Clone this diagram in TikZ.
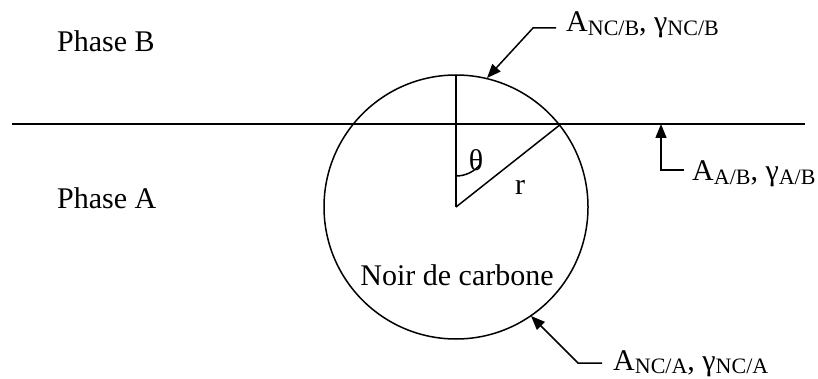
\documentclass[tikz,border=0pt]{standalone}
\usepackage{fontspec}
\setmainfont{Liberation Serif}
\usetikzlibrary{arrows.meta,calc}
\newcommand{\sbs}[1]{\raisebox{-3.5pt}{\fontsize{22}{22}\selectfont #1}}
\begin{document}
\begin{tikzpicture}[x=1pt,y=-1pt,
  line/.style={line width=1.5pt},
  txt/.style={inner sep=0pt,font=\fontsize{30}{30}\selectfont},
  lbl/.style={txt,anchor=base west},
  ptr/.style={line width=1.5pt,-{Triangle[length=14pt,width=11pt]}}]
\useasboundingbox (0,0) rectangle (818,379);
% interface
\coordinate (L) at (12,124);
\coordinate (R) at (805,124);
\draw[line] (L) -- (R);
% particle
\coordinate (O) at (456,207);
\draw[line] (O) circle[radius=132];
\coordinate (T) at (456,75);
\coordinate (P) at (561,124);
\draw[line] (O) -- (T);
\draw[line] (O) -- (P);
\coordinate (A0) at (456,176);
\draw[line] (A0) arc[start angle=90,end angle=38.3,radius=31];
\node[txt] (theta) at (476,160) {θ};
\node[txt] (r) at (520,187) {r};
\node[txt,anchor=base] (nc) at (457,285) {Noir de carbone};
% phases
\node[lbl] (pb) at (57,52) {Phase B};
\node[lbl] (pa) at (57,208) {Phase A};
% labels
\node[lbl] (lncb) at (566,32) {A\sbs{NC/B}, γ\sbs{NC/B}};
\coordinate (k1) at (533,28);
\coordinate (e1) at (556,28);
\coordinate (t1) at (487,78);
\draw[ptr] (e1) -- (k1) -- (t1);
\node[lbl] (lab) at (692,181) {A\sbs{A/B}, γ\sbs{A/B}};
\coordinate (k2) at (661,170);
\coordinate (e2) at (684,170);
\coordinate (t2) at (661,124);
\draw[ptr] (e2) -- (k2) -- (t2);
\node[lbl] (lnca) at (613,370) {A\sbs{NC/A}, γ\sbs{NC/A}};
\coordinate (k3) at (578,363);
\coordinate (e3) at (602,363);
\coordinate (t3) at (531,316);
\draw[ptr] (e3) -- (k3) -- (t3);
\end{tikzpicture}
\end{document}
